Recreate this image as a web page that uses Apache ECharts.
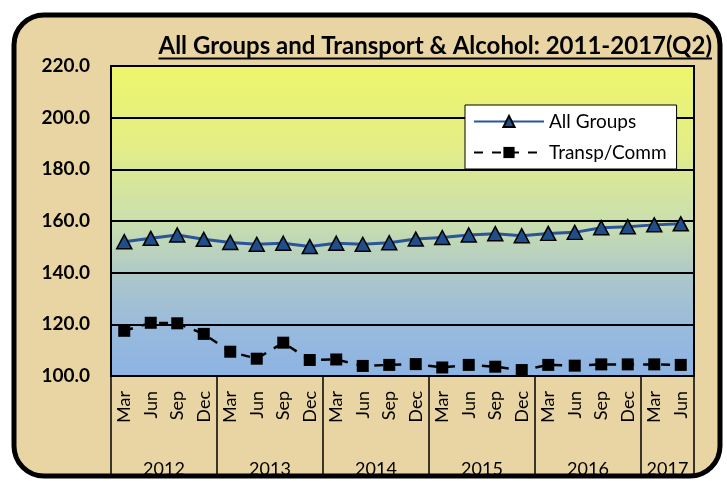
<!DOCTYPE html>
<html>
<head>
<meta charset="utf-8">
<script src="https://cdn.jsdelivr.net/npm/echarts@6.0.0/dist/echarts.min.js"></script>
<style>
html,body{margin:0;padding:0;background:#fff;}
#main{width:727px;height:481px;}
</style>
</head>
<body>
<div id="main"></div>
<script>
//数据
var months = ['Mar','Jun','Sep','Dec','Mar','Jun','Sep','Dec','Mar','Jun','Sep','Dec',
              'Mar','Jun','Sep','Dec','Mar','Jun','Sep','Dec','Mar','Jun'];
var years = ['2012','2013','2014','2015','2016','2017'];
var yearBounds = [0,4,8,12,16,20,22];
var yearMids = [2,6,10,14,18,21];
var allGroups = [152.0,153.3,154.6,152.9,151.7,151.0,151.4,150.1,151.4,151.0,151.6,153.0,
                 153.6,154.6,155.1,154.3,155.2,155.6,157.4,157.8,158.5,158.9];
var transpComm = [117.5,120.6,120.4,116.3,109.4,106.7,112.9,106.2,106.4,103.9,104.3,104.6,
                  103.3,104.3,103.6,102.3,104.3,104.0,104.5,104.5,104.5,104.3];
var yMin = 100, yMax = 220, yStep = 20;

var titleText = 'All Groups and Transport & Alcohol: 2011-2017(Q2)';
var titleFont = 'bold 24px Lato';
var fontName = 'Lato';

//量标题宽度，画下划线用
function textWidth(txt, font) {
    var ctx = document.createElement('canvas').getContext('2d');
    ctx.font = font;
    return ctx.measureText(txt).width;
}

var myChart = echarts.init(document.getElementById('main'));
var titleRight = 712;
var tw = textWidth(titleText, titleFont);

var option = {
    backgroundColor: '#ffffff',
    animation: false,
    graphic: [
        {
            type: 'rect', z: -10, silent: true,
            shape: {x: 14, y: 15, width: 706, height: 461, r: 30},
            style: {fill: '#e8d5a3', stroke: '#000', lineWidth: 5}
        },
        {
            type: 'text', z: 10,
            style: {x: titleRight, y: 34, text: titleText, font: titleFont, fill: '#000', align: 'right', verticalAlign: 'top'}
        },
        {
            type: 'line', z: 10,
            shape: {x1: titleRight - tw, y1: 58.5, x2: titleRight, y2: 58.5},
            style: {stroke: '#000', lineWidth: 2}
        }
    ],
    legend: {
        left: 465, top: 105,
        orient: 'vertical',
        backgroundColor: '#fff',
        borderColor: '#000',
        borderWidth: 1,
        padding: [7, 10, 7, 8],
        itemGap: 12,
        itemWidth: 70,
        itemHeight: 14,
        textStyle: {fontFamily: fontName, fontSize: 19, color: '#000'},
        data: ['All Groups', 'Transp/Comm']
    },
    grid: {
        left: 111, right: 33, top: 66, bottom: 105,
        show: true,
        borderColor: '#000',
        borderWidth: 2,
        backgroundColor: new echarts.graphic.LinearGradient(0, 0, 0, 1, [
            {offset: 0, color: '#eef66a'},
            {offset: 0.25, color: '#e4ee86'},
            {offset: 0.5, color: '#cadfae'},
            {offset: 0.7, color: '#a9c5cc'},
            {offset: 0.85, color: '#98badd'},
            {offset: 1, color: '#8cb3e3'}
        ])
    },
    xAxis: [
        {
            type: 'category',
            data: months,
            boundaryGap: true,
            axisLine: {lineStyle: {color: '#000', width: 2}},
            axisTick: {show: false},
            axisLabel: {rotate: 90, interval: 0, margin: 15, color: '#000', fontFamily: fontName, fontSize: 18}
        },
        {
            type: 'value',
            position: 'bottom',
            min: 0, max: 22,
            axisLine: {show: false},
            splitLine: {show: false},
            axisTick: {show: true, customValues: yearBounds, length: 102, lineStyle: {color: '#000', width: 1.5}},
            axisLabel: {
                customValues: yearMids,
                margin: 84,
                color: '#000', fontFamily: fontName, fontSize: 18,
                formatter: function (v) { return years[yearMids.indexOf(v)]; }
            }
        }
    ],
    yAxis: {
        type: 'value',
        min: yMin, max: yMax, interval: yStep,
        axisLine: {show: false},
        axisTick: {show: false},
        splitLine: {lineStyle: {color: '#000', width: 2}},
        axisLabel: {
            margin: 21, color: '#000', fontFamily: fontName, fontSize: 19, fontWeight: 'bold',
            formatter: function (v) { return v.toFixed(1); }
        }
    },
    series: [
        {
            name: 'All Groups',
            type: 'line',
            data: allGroups,
            symbol: 'triangle',
            symbolSize: [15, 14],
            lineStyle: {color: '#2a5597', width: 3},
            itemStyle: {color: '#1f4e8a', borderColor: '#000', borderWidth: 1.5}
        },
        {
            name: 'Transp/Comm',
            type: 'line',
            data: transpComm,
            symbol: 'rect',
            symbolSize: 12,
            lineStyle: {color: '#000', width: 2.5, type: [9, 9]},
            itemStyle: {color: '#000'}
        }
    ]
};

myChart.setOption(option);
</script>
</body>
</html>
